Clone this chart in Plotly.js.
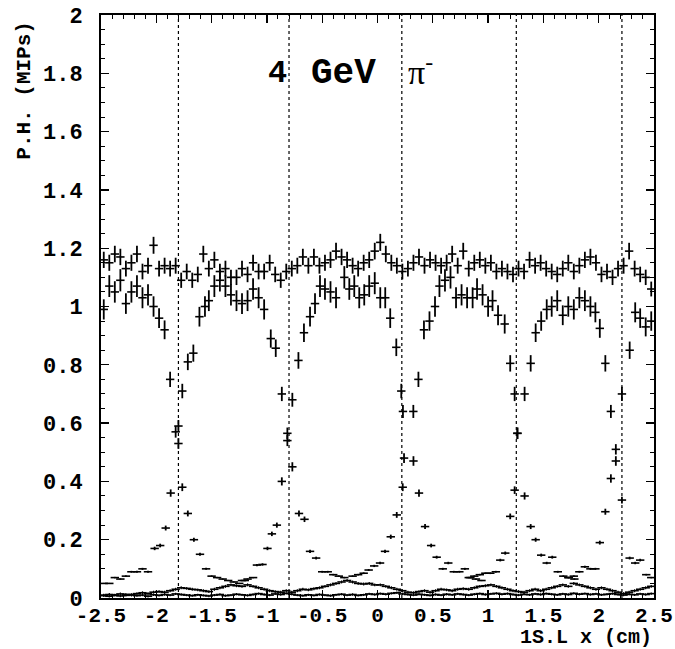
<!DOCTYPE html>
<html>
<head>
<meta charset="utf-8">
<script src="https://cdn.plot.ly/plotly-3.0.1.min.js"></script>
<style>html,body{margin:0;padding:0;background:#fff;}#chart{width:675px;height:649px;}</style>
</head>
<body>
<div id="chart"></div>
<script>
// ---- data ----
const gridX = [-2.475,-2.425,-2.375,-2.325,-2.275,-2.225,-2.175,-2.125,-2.075,-2.025,
 -1.975,-1.925,-1.875,-1.825,-1.775,-1.725,-1.675,-1.625,-1.575,-1.525,
 -1.475,-1.425,-1.375,-1.325,-1.275,-1.225,-1.175,-1.125,-1.075,-1.025,
 -0.975,-0.925,-0.875,-0.825,-0.775,-0.725,-0.675,-0.625,-0.575,-0.525,
 -0.475,-0.425,-0.375,-0.325,-0.275,-0.225,-0.175,-0.125,-0.075,-0.025,
 0.025,0.075,0.125,0.175,0.225,0.275,0.325,0.375,0.425,0.475,
 0.525,0.575,0.625,0.675,0.725,0.775,0.825,0.875,0.925,0.975,
 1.025,1.075,1.125,1.175,1.225,1.275,1.325,1.375,1.425,1.475,
 1.525,1.575,1.625,1.675,1.725,1.775,1.825,1.875,1.925,1.975,
 2.025,2.075,2.125,2.175,2.225,2.275,2.325,2.375,2.425,2.475];

const sumY = [1.16,1.15,1.18,1.17,1.13,1.15,1.18,1.12,1.14,1.21,1.13,1.14,1.13,1.14,
 1.09,1.12,1.09,1.11,1.18,1.13,1.16,1.12,1.13,1.10,1.10,1.13,1.11,1.15,1.12,1.12,1.15,1.11,1.09,1.12,
 1.13,1.14,1.17,1.14,1.17,1.14,1.15,1.16,1.19,1.17,1.16,1.14,1.13,1.15,1.16,1.19,1.22,1.18,1.15,1.14,
 1.12,1.13,1.15,1.17,1.14,1.16,1.15,1.14,1.15,1.18,1.14,1.19,1.13,1.15,1.16,1.14,1.15,1.12,1.13,1.12,
 1.11,1.13,1.12,1.16,1.14,1.15,1.13,1.12,1.11,1.13,1.15,1.12,1.14,1.16,1.17,1.15,1.11,1.12,1.10,
 1.13,1.14,1.19,1.13,1.11,1.10,1.06];

const s0X = [-2.475,-2.425,-2.375,-2.325,-2.275,-2.225,-2.175,-2.125,-2.075,-2.025,-1.975,-1.925,-1.875,-1.825,-1.80,-1.765,-1.715,-1.66,-1.605,-1.55,-1.50,-1.45,-1.40,-1.35,-1.30,-1.25,-1.20];
const s0Y = [0.99,1.07,1.05,1.09,1.01,1.05,1.07,1.03,1.04,1.00,0.96,0.92,0.75,0.57,0.53,0.38,0.29,0.20,0.15,0.10,0.075,0.07,0.065,0.06,0.055,0.05,0.06];

const s1X = [-2.475,-2.425,-2.375,-2.325,-2.275,-2.225,-2.175,-2.125,-2.075,-2.015,-1.965,-1.915,-1.87,-1.80,-1.765,-1.715,-1.665,-1.61,-1.56,-1.525,-1.475,-1.425,-1.375,-1.325,-1.275,-1.225,-1.175,-1.125,-1.075,-1.025,-0.965,-0.92,-0.865,-0.815,-0.77,-0.71,-0.66,-0.61,-0.555,-0.50,-0.45,-0.40,-0.35,-0.30];
const s1Y = [0.05,0.05,0.07,0.065,0.075,0.09,0.09,0.10,0.09,0.17,0.18,0.24,0.36,0.59,0.71,0.81,0.84,0.965,1.00,1.02,1.07,1.09,1.07,1.04,1.02,1.01,1.02,1.06,1.03,0.99,0.89,0.857,0.70,0.565,0.45,0.29,0.27,0.16,0.137,0.09,0.09,0.08,0.075,0.07];

const s2X = [-1.225,-1.175,-1.125,-1.09,-1.04,-0.995,-0.955,-0.91,-0.865,-0.815,-0.77,-0.715,-0.665,-0.61,-0.565,-0.52,-0.475,-0.425,-0.375,-0.30,-0.255,-0.21,-0.165,-0.12,-0.075,-0.025,0.025,0.07,0.115,0.17,0.215,0.23,0.325,0.375,0.43,0.485,0.535,0.59,0.64,0.69,0.74,0.79,0.84,0.89,0.94];
const s2Y = [0.06,0.065,0.07,0.113,0.115,0.17,0.22,0.25,0.40,0.54,0.68,0.815,0.91,0.965,1.01,1.07,1.06,1.05,1.03,1.10,1.06,1.07,1.03,1.04,1.07,1.08,1.03,1.03,0.96,0.86,0.71,0.64,0.47,0.36,0.245,0.18,0.14,0.10,0.12,0.09,0.09,0.10,0.07,0.065,0.06];

const s3X = [-0.225,-0.175,-0.125,-0.08,-0.03,0.023,0.068,0.12,0.174,0.228,0.24,0.324,0.37,0.42,0.47,0.52,0.56,0.61,0.66,0.71,0.76,0.81,0.86,0.90,0.95,1.00,1.04,1.09,1.15,1.20,1.24,1.265,1.33,1.385,1.43,1.48,1.53,1.58,1.63,1.68,1.73,1.78];
const s3Y = [0.075,0.08,0.085,0.096,0.11,0.12,0.16,0.21,0.285,0.38,0.48,0.64,0.75,0.92,0.95,1.00,1.07,1.09,1.10,1.03,1.04,1.03,1.03,1.06,1.04,1.00,1.02,0.97,0.94,0.805,0.70,0.565,0.35,0.245,0.20,0.147,0.12,0.14,0.09,0.075,0.07,0.065];

const s4X = [0.825,0.875,0.925,0.975,1.02,1.07,1.11,1.155,1.20,1.24,1.265,1.33,1.385,1.43,1.48,1.53,1.575,1.625,1.675,1.725,1.775,1.825,1.875,1.925,1.97,2.01,2.06,2.11,2.155,2.21,2.28,2.33,2.375,2.43,2.475];
const s4Y = [0.07,0.075,0.08,0.085,0.085,0.09,0.13,0.154,0.28,0.37,0.565,0.70,0.805,0.91,0.95,0.99,1.00,1.02,0.97,1.00,0.99,1.03,1.02,1.00,0.98,0.925,0.805,0.64,0.51,0.336,0.137,0.12,0.13,0.08,0.07];

const s5X = [1.725,1.775,1.825,1.875,1.925,1.97,2.01,2.06,2.11,2.155,2.21,2.28,2.33,2.375,2.425,2.475];
const s5Y = [0.07,0.075,0.09,0.107,0.10,0.10,0.19,0.296,0.41,0.47,0.70,0.85,0.98,0.96,0.93,0.95];

const nearY = [0.010,0.012,0.010,0.014,0.012,0.010,0.015,0.018,0.015,0.020,0.022,0.020,0.025,0.030,
 0.035,0.033,0.030,0.028,0.025,0.022,0.030,0.035,0.040,0.045,0.042,0.040,0.045,0.040,0.035,0.030,0.025,0.022,0.020,0.025,
 0.020,0.025,0.030,0.028,0.032,0.035,0.040,0.045,0.050,0.055,0.060,0.055,0.050,0.048,0.050,0.045,0.045,0.040,0.035,0.030,
 0.025,0.020,0.018,0.022,0.025,0.020,0.025,0.030,0.028,0.025,0.030,0.032,0.030,0.035,0.040,0.042,0.045,0.040,0.035,0.030,
 0.025,0.022,0.020,0.025,0.030,0.025,0.030,0.035,0.040,0.045,0.040,0.050,0.045,0.040,0.035,0.030,0.035,0.030,0.025,
 0.020,0.015,0.020,0.025,0.030,0.035,0.040];

const farY = [0.008,0.006,0.010,0.007,0.009,0.012,0.008,0.010,0.006,0.011,0.009,0.012,0.010,0.014,
 0.012,0.010,0.008,0.011,0.009,0.007,0.010,0.012,0.008,0.010,0.013,0.011,0.009,0.012,0.015,0.012,0.010,0.014,0.012,0.016,
 0.013,0.010,0.008,0.011,0.009,0.012,0.010,0.008,0.011,0.013,0.010,0.012,0.009,0.011,0.014,0.012,0.015,0.013,0.016,0.018,
 0.014,0.012,0.010,0.013,0.011,0.009,0.012,0.010,0.013,0.011,0.014,0.012,0.010,0.013,0.015,0.012,0.014,0.016,0.013,0.015,
 0.012,0.010,0.013,0.011,0.014,0.012,0.015,0.013,0.011,0.014,0.012,0.016,0.013,0.015,0.012,0.014,0.011,0.013,0.015,
 0.012,0.010,0.013,0.011,0.014,0.012,0.015,0.013];

const boundaries = [-1.80, -0.80, 0.22, 1.255, 2.21];
const xTickVals = [-2.5,-2,-1.5,-1,-0.5,0,0.5,1,1.5,2,2.5];
const xTickText = ['-2.5','-2','-1.5','-1','-0.5','0','0.5','1','1.5','2','2.5'];
const yTickVals = [0,0.2,0.4,0.6,0.8,1,1.2,1.4,1.6,1.8,2];
const yTickText = ['0','0.2','0.4','0.6','0.8','1','1.2','1.4','1.6','1.8','2'];

// ---- drawing ----
const MONO = 'Liberation Mono, Courier New, monospace';
function pts(x, y, err, isPct) {
  return {
    type: 'scatter', mode: 'markers', x: x, y: y, showlegend: false, hoverinfo: 'skip',
    marker: {symbol: 'line-ew', size: 6, color: '#000', line: {color: '#000', width: 1.6}},
    error_y: isPct ? {type: 'percent', value: err, visible: true, color: '#000', thickness: 1.8, width: 0}
                   : {type: 'constant', value: err, visible: true, color: '#000', thickness: 1.2, width: 0}
  };
}
const traces = [
  pts(gridX, sumY, 2.4, true),
  pts(s0X, s0Y, 3.5, true),
  pts(s1X, s1Y, 3.5, true),
  pts(s2X, s2Y, 3.5, true),
  pts(s3X, s3Y, 3.5, true),
  pts(s4X, s4Y, 3.5, true),
  pts(s5X, s5Y, 3.5, true),
  pts(gridX, nearY, 0.005, false),
  pts(gridX, farY, 0.004, false)
];
const shapes = boundaries.map(b => ({
  type: 'line', xref: 'x', yref: 'y', x0: b, x1: b, y0: 0, y1: 2,
  line: {color: '#000', width: 1.2, dash: 'dot'}
}));
const axisCommon = {
  showgrid: false, zeroline: false, showline: true, linecolor: '#000', linewidth: 2,
  mirror: 'ticks', ticks: 'inside', ticklen: 8, tickwidth: 1.3, tickcolor: '#000',
  tickmode: 'array', tickangle: 0,
  tickfont: {family: MONO, size: 22, color: '#000', weight: 'bold'}
};
const layout = {
  width: 675, height: 649,
  margin: {l: 101, r: 21, t: 15, b: 51},
  paper_bgcolor: '#fff', plot_bgcolor: '#fff',
  showlegend: false,
  xaxis: Object.assign({}, axisCommon, {
    range: [-2.5, 2.5], tickvals: xTickVals, ticktext: xTickText, ticklabelstandoff: -3,
    tickfont: {family: MONO, size: 21, color: '#000', weight: 'bold'},
    minor: {dtick: 0.1, tick0: -2.5, ticks: 'inside', ticklen: 4, tickcolor: '#000', tickwidth: 1}
  }),
  yaxis: Object.assign({}, axisCommon, {
    range: [0, 2], tickvals: yTickVals, ticktext: yTickText, ticklabelstandoff: 12,
    minor: {dtick: 0.05, tick0: 0, ticks: 'inside', ticklen: 4, tickcolor: '#000', tickwidth: 1}
  }),
  shapes: shapes,
  annotations: [
    {text: '1S.L x (cm)', xref: 'paper', yref: 'paper', x: 1, y: -0.067, xanchor: 'right', yanchor: 'middle',
     showarrow: false, font: {family: MONO, size: 20, color: '#000', weight: 'bold'}},
    {text: 'P.H. (MIPs)', xref: 'paper', yref: 'paper', x: -0.139, y: 0.993, xanchor: 'center', yanchor: 'top',
     textangle: -90, showarrow: false, font: {family: MONO, size: 21, color: '#000', weight: 'bold'}},
    {text: '4', xref: 'paper', yref: 'paper', x: 0.32, y: 0.899, xanchor: 'center', yanchor: 'middle',
     showarrow: false, font: {family: MONO, size: 32, color: '#000', weight: 'bold'}},
    {text: 'GeV', xref: 'paper', yref: 'paper', x: 0.439, y: 0.899, xanchor: 'center', yanchor: 'middle',
     showarrow: false, font: {family: MONO, size: 36, color: '#000', weight: 'bold'}},
    {text: 'π<sup>-</sup>', xref: 'paper', yref: 'paper', x: 0.578, y: 0.905, xanchor: 'center', yanchor: 'middle',
     showarrow: false, font: {family: 'Liberation Serif, serif', size: 34, color: '#000'}}
  ]
};
Plotly.newPlot('chart', traces, layout, {staticPlot: true, displayModeBar: false});
</script>
</body>
</html>
